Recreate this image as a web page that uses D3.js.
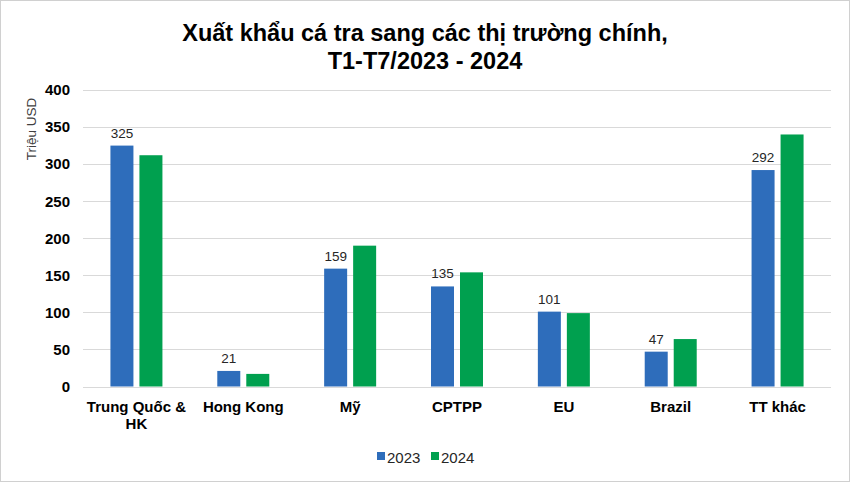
<!DOCTYPE html>
<html><head><meta charset="utf-8">
<script src="https://cdn.jsdelivr.net/npm/d3@7"></script>
<style>
html,body{margin:0;padding:0;background:#fff;}
svg{display:block;font-family:"Liberation Sans",Arial,sans-serif;}
</style></head>
<body>
<svg id="c" width="850" height="482"></svg>
<script>
const categories = ["Trung Quốc & HK","Hong Kong","Mỹ","CPTPP","EU","Brazil","TT khác"];
const values2023 = [325,21,159,135,101,47,292];
const values2024 = [312,17,190,154,99,64,340];
const labels2023 = ["325","21","159","135","101","47","292"];
const seriesNames = ["2023","2024"];
const yTicks = [0,50,100,150,200,250,300,350,400];
const titleLines = ["Xuất khẩu cá tra sang các thị trường chính,","T1-T7/2023 - 2024"];
const yTitle = "Triệu USD";

const colors = ["#2E6DBB","#00A04F"];
const svg = d3.select("#c");
const W = 850, H = 482;
svg.append("rect").attr("x",0.5).attr("y",0.5).attr("width",W-1).attr("height",H-1)
  .attr("fill","#fff").attr("stroke","#d0d0d0");

const x0 = d3.scaleBand().domain(categories).range([83,831]).paddingInner(0).paddingOuter(0);
const y = d3.scaleLinear().domain([0,400]).range([386.5,90]);
const barW = 23, gap = 6;

// gridlines
svg.append("g").selectAll("line").data(yTicks).join("line")
  .attr("x1",83).attr("x2",831)
  .attr("y1",d=>Math.round(y(d))+0.5).attr("y2",d=>Math.round(y(d))+0.5)
  .attr("stroke","#d9d9d9").attr("stroke-width",1.2);

// y axis labels
const yAxis = d3.axisLeft(y).tickValues(yTicks).tickSize(0).tickPadding(0);
const ga = svg.append("g").attr("transform","translate(70,0)").call(yAxis);
ga.select(".domain").remove();
ga.selectAll("text").attr("font-size",15).attr("font-weight","bold").attr("fill","#000")
  .attr("font-family","'Liberation Sans',Arial,sans-serif");

// y title
svg.append("text").attr("transform","translate(36,129) rotate(-90)")
  .attr("text-anchor","middle").attr("font-size",13.5).attr("fill","#404040").text(yTitle);

// bars
const series = [values2023, values2024];
series.forEach((vals,si)=>{
  svg.append("g").selectAll("rect").data(categories).join("rect")
    .attr("x",(c)=>x0(c)+x0.bandwidth()/2 + (si===0 ? -gap/2-barW : gap/2))
    .attr("width",barW)
    .attr("y",(c,i)=>y(vals[i]))
    .attr("height",(c,i)=>y(0)-y(vals[i]))
    .attr("fill",colors[si]);
});

// data labels (2023)
svg.append("g").selectAll("text").data(categories).join("text")
  .attr("x",c=>x0(c)+x0.bandwidth()/2-gap/2-barW/2)
  .attr("y",(c,i)=>y(values2023[i])-8)
  .attr("text-anchor","middle").attr("font-size",13.5).attr("fill","#262626")
  .text((c,i)=>labels2023[i]);

// x labels
const xl = svg.append("g");
categories.forEach(c=>{
  const cx = x0(c)+x0.bandwidth()/2;
  const t = xl.append("text").attr("x",cx).attr("y",412)
    .attr("text-anchor","middle").attr("font-size",15).attr("font-weight","bold").attr("fill","#000");
  let lines;
  if (c.length>12){
    const splitAt = c.lastIndexOf(" ");
    lines=[c.slice(0,splitAt), c.slice(splitAt+1)];
  } else lines=[c];
  lines.forEach((l,i)=>t.append("tspan").attr("x",cx).attr("dy",i?17:0).text(l));
});

// legend
const lg = svg.append("g");
const legX = [377, 431];
seriesNames.forEach((s,i)=>{
  lg.append("rect").attr("x",legX[i]).attr("y",452).attr("width",8).attr("height",8).attr("fill",colors[i]);
  lg.append("text").attr("x",legX[i]+10).attr("y",463).attr("font-size",15).attr("fill","#262626").text(s);
});

// title
svg.append("g").selectAll("text").data(titleLines).join("text")
  .attr("x",425).attr("y",(d,i)=>41+i*28).attr("text-anchor","middle")
  .attr("font-size",23.5).attr("font-weight","bold").attr("fill","#000").text(d=>d);
</script>
</body></html>
